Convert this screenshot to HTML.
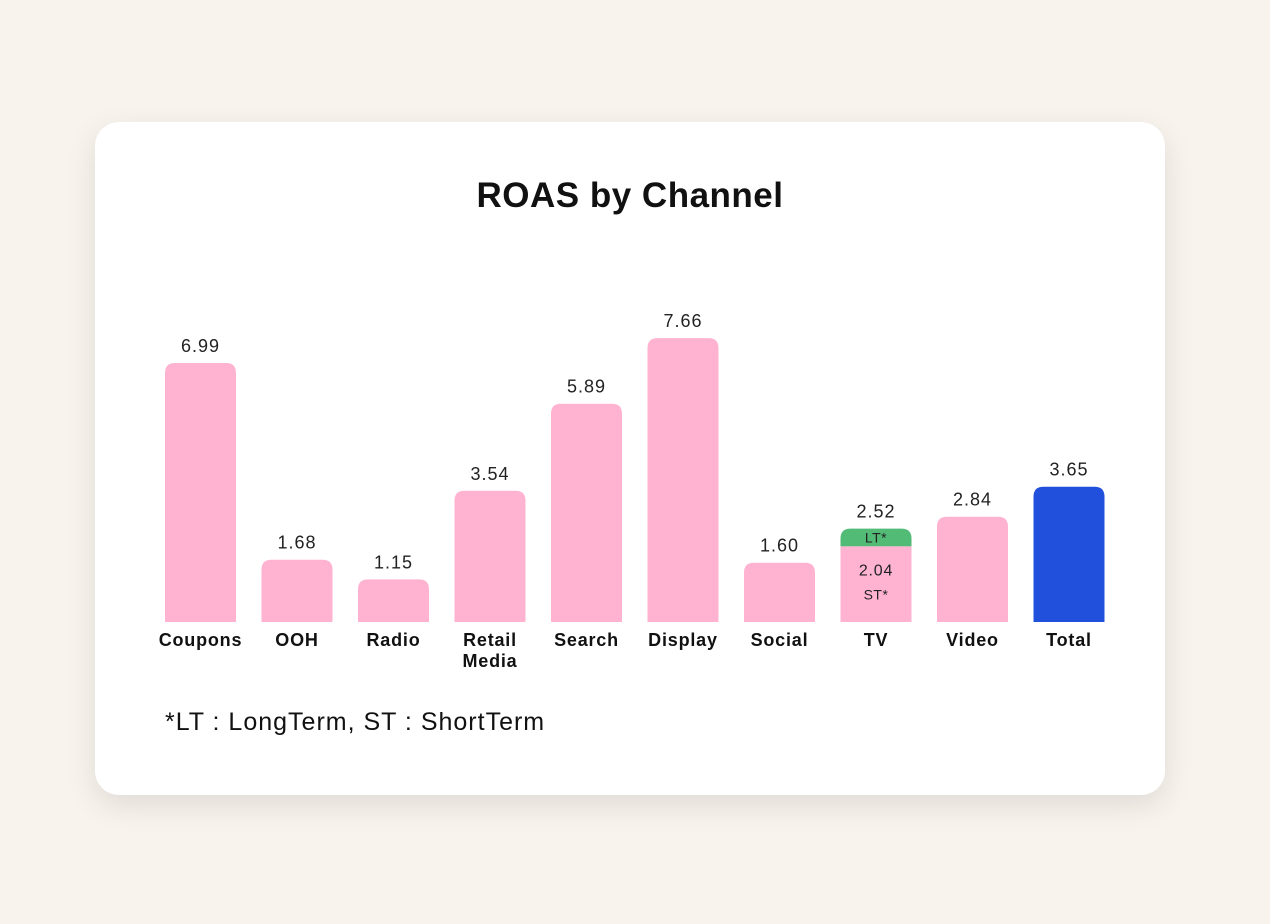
<!DOCTYPE html>
<html><head><meta charset="utf-8"><style>
body{margin:0;width:1270px;height:924px;background:#f8f3ed;font-family:"Liberation Sans",sans-serif;overflow:hidden}
#card{position:absolute;left:95px;top:122px;width:1070px;height:673px;background:#fff;border-radius:24px;box-shadow:0 10px 30px rgba(0,0,0,0.10)}
</style></head><body>
<div id="card"></div>
<svg id="chart" width="1270" height="924" style="position:absolute;left:0;top:0">
<text x="630" y="207" text-anchor="middle" font-size="35" font-weight="bold" letter-spacing="0.5" fill="#111">ROAS by Channel</text>
<g id="bars"></g>
<text x="165" y="730" font-size="25" letter-spacing="1" fill="#111">*LT : LongTerm, ST : ShortTerm</text>
</svg>
<script>
const categories=["Coupons","OOH","Radio","Retail Media","Search","Display","Social","TV","Video","Total"];
const values=[6.99,1.68,1.15,3.54,5.89,7.66,1.60,2.52,2.84,3.65];
const tvShortTerm=2.04;
const tvLongTerm=0.48;
const baseY=622, scale=37.06, x0=165, step=96.5, bw=71, r=10;
const ns="http://www.w3.org/2000/svg";
const g=document.getElementById('bars');
function y(v){return baseY-v*scale;}
function topRounded(x,yt,w,h,fill){
  const p=document.createElementNS(ns,'path');
  p.setAttribute('d',`M${x},${yt+h}V${yt+r}Q${x},${yt} ${x+r},${yt}H${x+w-r}Q${x+w},${yt} ${x+w},${yt+r}V${yt+h}Z`);
  p.setAttribute('fill',fill);g.appendChild(p);return p;
}
function txt(x,yy,s,size,weight,fill,ls){
  const t=document.createElementNS(ns,'text');
  t.setAttribute('x',x);t.setAttribute('y',yy);t.setAttribute('text-anchor','middle');
  t.setAttribute('font-size',size);t.setAttribute('font-weight',weight);t.setAttribute('fill',fill);
  t.setAttribute('letter-spacing',ls||0);
  t.textContent=s;g.appendChild(t);return t;
}
categories.forEach((c,i)=>{
  const x=x0+i*step, cx=x+bw/2, v=values[i];
  if(c==="TV"){
    const stTop=y(tvShortTerm), ltTop=y(tvShortTerm+tvLongTerm);
    const lt=topRounded(x,ltTop,bw,stTop-ltTop,'#52bb76');
    
    
    const st=document.createElementNS(ns,'rect');
    st.setAttribute('x',x);st.setAttribute('y',stTop);st.setAttribute('width',bw);st.setAttribute('height',baseY-stTop);st.setAttribute('fill','#ffb3d1');
    
    
    g.appendChild(st);
    const l1=txt(cx,(ltTop+stTop)/2+5,'LT*',14,'normal','#222',0.5);
    
    
    const l2=txt(cx,stTop+29,tvShortTerm.toFixed(2),16,'normal','#222',0.8);
    
    
    const l3=txt(cx,stTop+53,'ST*',14,'normal','#222',0.5);
    
    
  } else {
    const b=topRounded(x,y(v),bw,v*scale,c==="Total"?'#2150dc':'#ffb3d1');
    
    
  }
  const vl=txt(cx,y(v)-11,v.toFixed(2),18,'normal','#222',1);
  
  
  const words=c.split(' ');
  words.forEach((w,k)=>{
    const cl=txt(cx,646+k*21,w,18,'bold','#111',0.8);
    
    
  });
});
</script>
</body></html>
